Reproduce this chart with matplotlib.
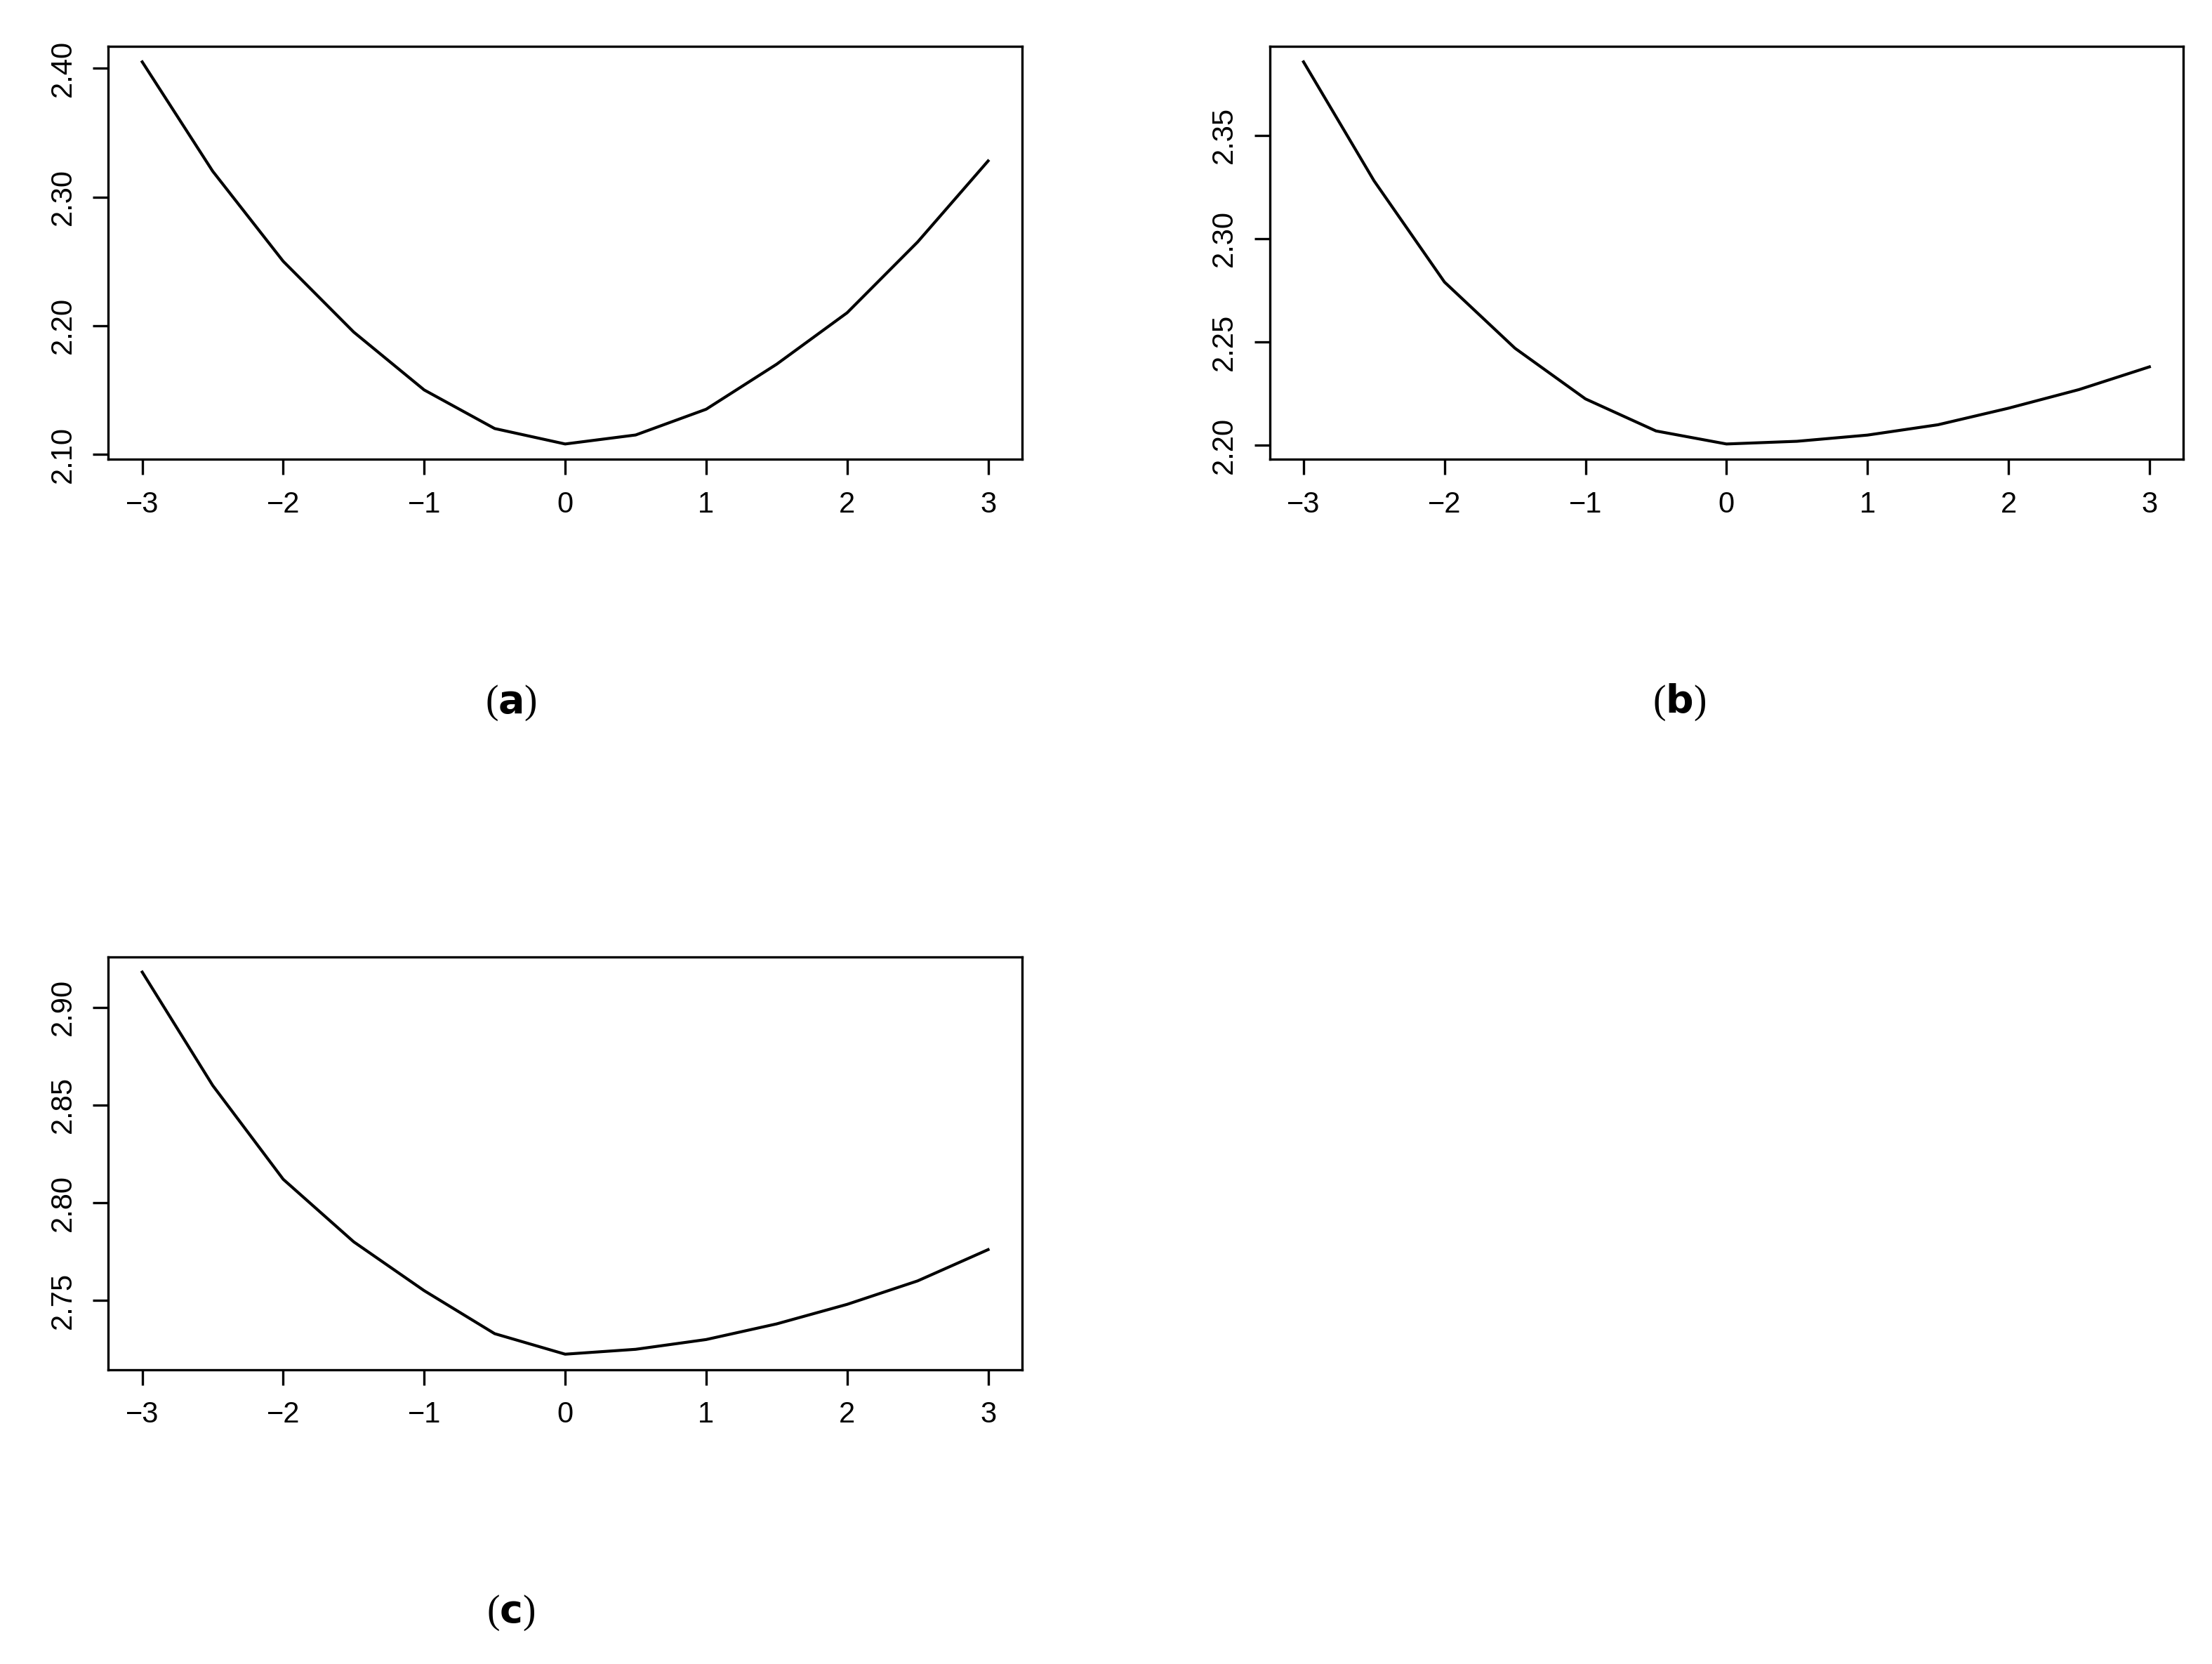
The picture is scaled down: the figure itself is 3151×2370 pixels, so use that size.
import matplotlib.pyplot as plt

x = [-3, -2.5, -2, -1.5, -1, -0.5, 0, 0.5, 1, 1.5, 2, 2.5, 3]
ya = [2.405, 2.32, 2.25, 2.195, 2.15, 2.12, 2.108, 2.115, 2.135, 2.17, 2.21, 2.265, 2.328]
yb = [2.3855, 2.328, 2.279, 2.247, 2.2225, 2.207, 2.2007, 2.202, 2.205, 2.210, 2.218, 2.227, 2.238]
yc = [2.918, 2.86, 2.812, 2.78, 2.755, 2.733, 2.7225, 2.725, 2.73, 2.738, 2.748, 2.76, 2.776]

yticks_a = [2.10, 2.20, 2.30, 2.40]
yticks_b = [2.20, 2.25, 2.30, 2.35]
yticks_c = [2.75, 2.80, 2.85, 2.90]
xticks = [-3, -2, -1, 0, 1, 2, 3]

plt.rcParams['font.family'] = ['Liberation Sans', 'DejaVu Sans']
fig = plt.figure(figsize=(15.755, 11.85), dpi=200)

panels = [
    ([0.049, 0.724, 0.413, 0.248], ya, yticks_a, "a", (0.231, 0.572)),
    ([0.574, 0.724, 0.413, 0.248], yb, yticks_b, "b", (0.759, 0.572)),
    ([0.049, 0.177, 0.413, 0.248], yc, yticks_c, "c", (0.231, 0.025)),
]
for rect, y, yt, lab, cap in panels:
    ax = fig.add_axes(rect)
    ax.plot(x, y, color="black", lw=1.5)
    ax.set_xlim(-3.24, 3.24)
    lo, hi = min(y), max(y)
    pad = (hi - lo) * 0.04
    ax.set_ylim(lo - pad, hi + pad)
    ax.set_xticks(xticks)
    ax.set_xticklabels(["\u22123", "\u22122", "\u22121", "0", "1", "2", "3"])
    ax.set_yticks(yt)
    ax.set_yticklabels([f"{v:.2f}" for v in yt], rotation=90, va="center")
    ax.tick_params(labelsize=15, length=8, width=1.2, pad=8)
    for s in ax.spines.values():
        s.set_linewidth(1.2)
    fig.text(cap[0], cap[1], "(" + r"$\mathbf{" + lab + "}$" + ")", fontsize=20,
             family="Liberation Serif", ha="center")

fig.savefig("out.png", dpi=200)
